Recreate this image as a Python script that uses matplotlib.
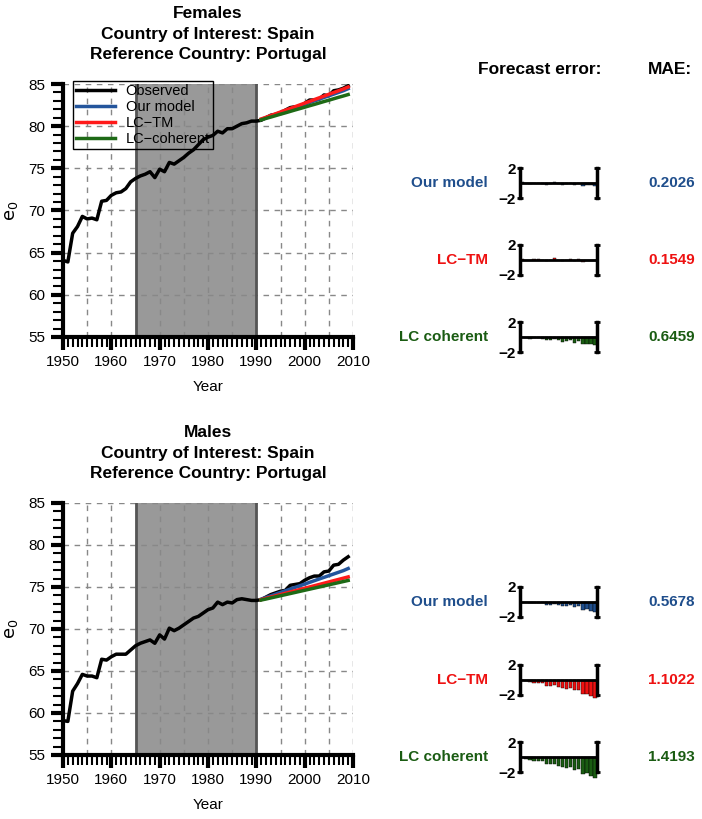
import numpy as np
import matplotlib.pyplot as plt
from matplotlib.ticker import MultipleLocator

plt.rcParams['font.family'] = ['Liberation Sans', 'DejaVu Sans']

# years
years = np.arange(1950, 2010)
fc_years = np.arange(1991, 2010)

# observed e0, Spain
fem_obs = [64.1, 63.9, 67.3, 68.1, 69.3, 69.0, 69.1, 68.9, 71.1, 71.2,
           71.8, 72.1, 72.2, 72.6, 73.4, 73.8, 74.1, 74.3, 74.6, 73.9,
           74.9, 74.6, 75.7, 75.5, 75.9, 76.3, 76.8, 77.2, 77.8, 78.4,
           78.7, 78.9, 79.4, 79.2, 79.7, 79.7, 80.0, 80.3, 80.4, 80.6,
           80.6, 80.7, 81.0, 81.3, 81.4, 81.6, 81.9, 82.2, 82.3, 82.3,
           82.7, 83.1, 83.1, 83.2, 83.7, 83.6, 84.2, 84.3, 84.5, 84.8]
male_obs = [59.1, 59.0, 62.6, 63.5, 64.6, 64.4, 64.4, 64.2, 66.4, 66.3,
            66.7, 67.0, 67.0, 67.0, 67.5, 68.0, 68.3, 68.5, 68.7, 68.3,
            69.3, 68.8, 70.1, 69.8, 70.1, 70.5, 70.9, 71.3, 71.5, 71.9,
            72.3, 72.5, 73.2, 72.9, 73.2, 73.1, 73.5, 73.6, 73.5, 73.4,
            73.4, 73.5, 73.8, 74.1, 74.3, 74.5, 74.6, 75.2, 75.3, 75.4,
            75.8, 76.1, 76.3, 76.3, 76.8, 76.9, 77.6, 77.7, 78.2, 78.6]

# forecasts 1991-2009
fem_ours = [80.8, 81.0, 81.2, 81.4, 81.6, 81.8, 82.0, 82.2, 82.4, 82.6,
            82.8, 83.0, 83.2, 83.4, 83.6, 83.8, 84.0, 84.2, 84.45]
fem_lctm = [80.85, 81.05, 81.26, 81.47, 81.68, 81.89, 82.1, 82.31, 82.52, 82.73,
            82.94, 83.15, 83.36, 83.57, 83.78, 83.99, 84.2, 84.41, 84.65]
fem_coh = [80.75, 80.92, 81.08, 81.25, 81.42, 81.58, 81.75, 81.92, 82.08, 82.25,
           82.42, 82.58, 82.75, 82.92, 83.08, 83.25, 83.42, 83.58, 83.75]
male_ours = [73.55, 73.75, 73.95, 74.15, 74.35, 74.55, 74.75, 74.95, 75.15, 75.35,
             75.55, 75.75, 75.95, 76.15, 76.35, 76.55, 76.75, 76.95, 77.2]
male_lctm = [73.5, 73.65, 73.8, 73.95, 74.1, 74.25, 74.4, 74.55, 74.7, 74.85,
             75.0, 75.15, 75.3, 75.45, 75.6, 75.75, 75.9, 76.05, 76.2]
male_coh = [73.45, 73.57, 73.7, 73.83, 73.96, 74.09, 74.22, 74.35, 74.48, 74.61,
            74.74, 74.87, 75.0, 75.13, 75.26, 75.39, 75.52, 75.65, 75.78]

fem_mae = ['0.2026', '0.1549', '0.6459']
male_mae = ['0.5678', '1.1022', '1.4193']

model_names = ['Our model', 'LC\u2212TM', 'LC coherent']
legend_names = ['Observed', 'Our model', 'LC\u2212TM', 'LC\u2212coherent']
colors = ['#1f4e8c', '#ee1111', '#1a5c12']
line_colors = ['#24559c', '#ff1a1a', '#1e6a16']

W, H = 702, 819
fig = plt.figure(figsize=(W / 100, H / 100), dpi=100)


def fx(px):
    return px / W


def fy(py):
    return 1 - py / H


def main_panel(top, bottom, obs, fcs, title, show_legend):
    ax = fig.add_axes([fx(63), fy(bottom), fx(290), fy(top) - fy(bottom)])
    ax.set_xlim(1950, 2010)
    ax.set_ylim(55, 85)
    ax.axvspan(1965, 1990, color='#999999', zorder=0)
    for gx in range(1955, 2011, 5):
        if gx in (1965, 1990):
            continue
        ax.axvline(gx, color='#888888', lw=1, ls=(0, (4, 4)), zorder=1)
    for gy in range(60, 86, 5):
        ax.axhline(gy, color='#888888', lw=1, ls=(0, (4, 4)), zorder=1)
    ax.axvline(1965, color='#555555', lw=2, zorder=2)
    ax.axvline(1990, color='#555555', lw=2, zorder=2)
    lines = []
    lines += ax.plot(years, obs, color='black', lw=2.5, zorder=3)
    for vals, c in zip(fcs, line_colors):
        lines += ax.plot(fc_years, vals, color=c, lw=2.5, zorder=3)
    for s in ['top', 'right']:
        ax.spines[s].set_visible(False)
    for s in ['left', 'bottom']:
        ax.spines[s].set_linewidth(3)
    ax.xaxis.set_major_locator(MultipleLocator(10))
    ax.xaxis.set_minor_locator(MultipleLocator(1))
    ax.yaxis.set_major_locator(MultipleLocator(5))
    ax.yaxis.set_minor_locator(MultipleLocator(1))
    ax.tick_params(which='major', length=9, width=3, labelsize=11, pad=4)
    ax.tick_params(which='minor', length=7, width=1.5)
    ax.set_xlabel('Year', fontsize=11, labelpad=8)
    ax.set_ylabel(r'$\mathrm{e}_0$', fontsize=13, labelpad=6)
    ax.set_title(title, fontsize=12.5, fontweight='bold', pad=18, linespacing=1.45)
    if show_legend:
        ax.legend(lines, legend_names, loc='upper left', bbox_to_anchor=(0.035, 1.01),
                  fontsize=10.5, frameon=True, edgecolor='black',
                  fancybox=False, borderpad=0.2, labelspacing=0.12,
                  handlelength=2.7, handletextpad=0.7, borderaxespad=0)
        frame = ax.get_legend().get_frame()
        frame.set_facecolor('none')
        frame.set_alpha(None)
        frame.set_edgecolor('black')
        frame.set_linewidth(1)
    return ax


def error_panel(top, obs, fc, color, name, mae):
    ax = fig.add_axes([fx(520), fy(top + 30), fx(77), fy(top) - fy(top + 30)])
    err = np.array(fc) - np.array(obs[-len(fc):])
    ax.bar(fc_years, err, width=0.85, color=color, edgecolor='black',
           linewidth=0.3, clip_on=False, zorder=2)
    ax.axhline(0, color='black', lw=2, zorder=3)
    ax.set_xlim(1990.5, 2009.5)
    ax.set_ylim(-2, 2)
    ax.set_yticks([-2, 2])
    ax.set_yticklabels(['\u22122', '2'], fontweight='bold', fontsize=11)
    ax.set_xticks([])
    for s in ['top', 'bottom']:
        ax.spines[s].set_visible(False)
    for s in ['left', 'right']:
        ax.spines[s].set_linewidth(2.5)
    ax.tick_params(axis='y', direction='inout', length=4, width=2, pad=1, right=True)
    ax.text(-0.42, 0.5, name, transform=ax.transAxes, ha='right', va='center',
            fontsize=11, fontweight='bold', color=color)
    ax.text(2.27, 0.5, mae, transform=ax.transAxes, ha='right', va='center',
            fontsize=11, fontweight='bold', color=color)
    return ax


title_f = 'Females\nCountry of Interest: Spain\nReference Country: Portugal'
title_m = 'Males\nCountry of Interest: Spain\nReference Country: Portugal'

main_panel(84, 337, fem_obs, [fem_ours, fem_lctm, fem_coh], title_f, True)
main_panel(503, 755, male_obs, [male_ours, male_lctm, male_coh], title_m, False)

fig.text(fx(540), fy(70), 'Forecast error:', ha='center', va='center',
         fontsize=12.5, fontweight='bold')
fig.text(fx(692), fy(70), 'MAE:', ha='right', va='center',
         fontsize=12.5, fontweight='bold')

for i, top in enumerate([168, 245, 322]):
    fc = [fem_ours, fem_lctm, fem_coh][i]
    error_panel(top, fem_obs, fc, colors[i], model_names[i], fem_mae[i])
for i, top in enumerate([587, 665, 742]):
    fc = [male_ours, male_lctm, male_coh][i]
    error_panel(top, male_obs, fc, colors[i], model_names[i], male_mae[i])

fig.savefig('out.png', dpi=100)
